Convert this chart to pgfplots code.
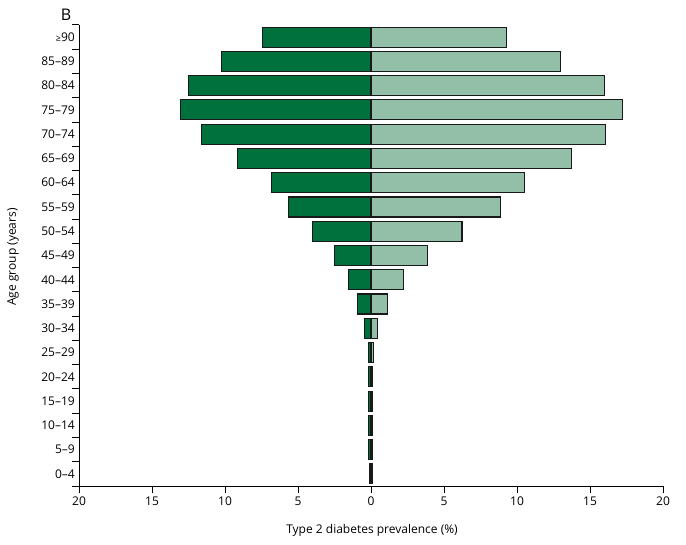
\documentclass[border=0pt]{standalone}
\usepackage{fontspec}
\setmainfont{Open Sans}
\usepackage{pgfplots}
\pgfplotsset{compat=1.18}
\definecolor{darkg}{RGB}{0,112,60}
\definecolor{lightg}{RGB}{147,191,168}
\begin{document}
\begin{tikzpicture}
\fontsize{12bp}{14bp}\selectfont
\begin{axis}[
  at={(0,0)}, anchor=south west,
  scale only axis, width=584bp, height=461bp,
  xmin=-20, xmax=20, ymin=-0.5, ymax=18.5,
  axis lines=left, axis line style={-, line width=1bp},
  every tick/.style={black, line width=1bp},
  tick align=outside, major tick length=7bp,
  xtick={-20,-15,...,20},
  xticklabels={20,15,10,5,0,5,10,15,20},
  ytick={-0.5,0.5,...,18.5},
  yticklabels={},
  extra y ticks={0,...,18},
  extra y tick labels={0--4,5--9,10--14,15--19,20--24,25--29,30--34,35--39,40--44,45--49,50--54,55--59,60--64,65--69,70--74,75--79,80--84,85--89,{\small≥}90},
  extra y tick style={major tick length=0pt, tick style={draw=none}},
  tick label style={font=\fontsize{12bp}{14bp}\selectfont},
  /pgf/number format/assume math mode=true,
  clip=false,
]
\addplot[xbar, bar width=20bp, bar shift=0pt, fill=lightg, draw=black!90, line width=1.1bp] coordinates {
(0.08,0) (0.08,1) (0.08,2) (0.08,3) (0.08,4) (0.16,5) (0.43,6) (1.12,7) (2.2,8) (3.84,9)
(6.23,10) (8.84,11) (10.5,12) (13.72,13) (16.05,14) (17.2,15) (15.98,16) (12.97,17) (9.27,18)};
\addplot[xbar, bar width=20bp, bar shift=0pt, fill=darkg, draw=black!90, line width=1.1bp] coordinates {
(-0.1,0) (-0.17,1) (-0.17,2) (-0.17,3) (-0.17,4) (-0.18,5) (-0.46,6) (-0.94,7) (-1.55,8) (-2.51,9)
(-4.02,10) (-5.66,11) (-6.8,12) (-9.15,13) (-11.6,14) (-13.06,15) (-12.5,16) (-10.25,17) (-7.45,18)};
\end{axis}
\node[font=\fontsize{12bp}{14bp}\selectfont] at (293bp,-44bp) {Type 2 diabetes prevalence (\%)};
\node[font=\fontsize{12bp}{14bp}\selectfont, rotate=90] at (-66bp,229bp) {Age group (years)};
\node[font=\fontsize{16bp}{18bp}\selectfont] at (-13bp,471bp) {B};
\path[use as bounding box] (-79bp,-59bp) rectangle (607bp,486bp);
\end{tikzpicture}
\end{document}
